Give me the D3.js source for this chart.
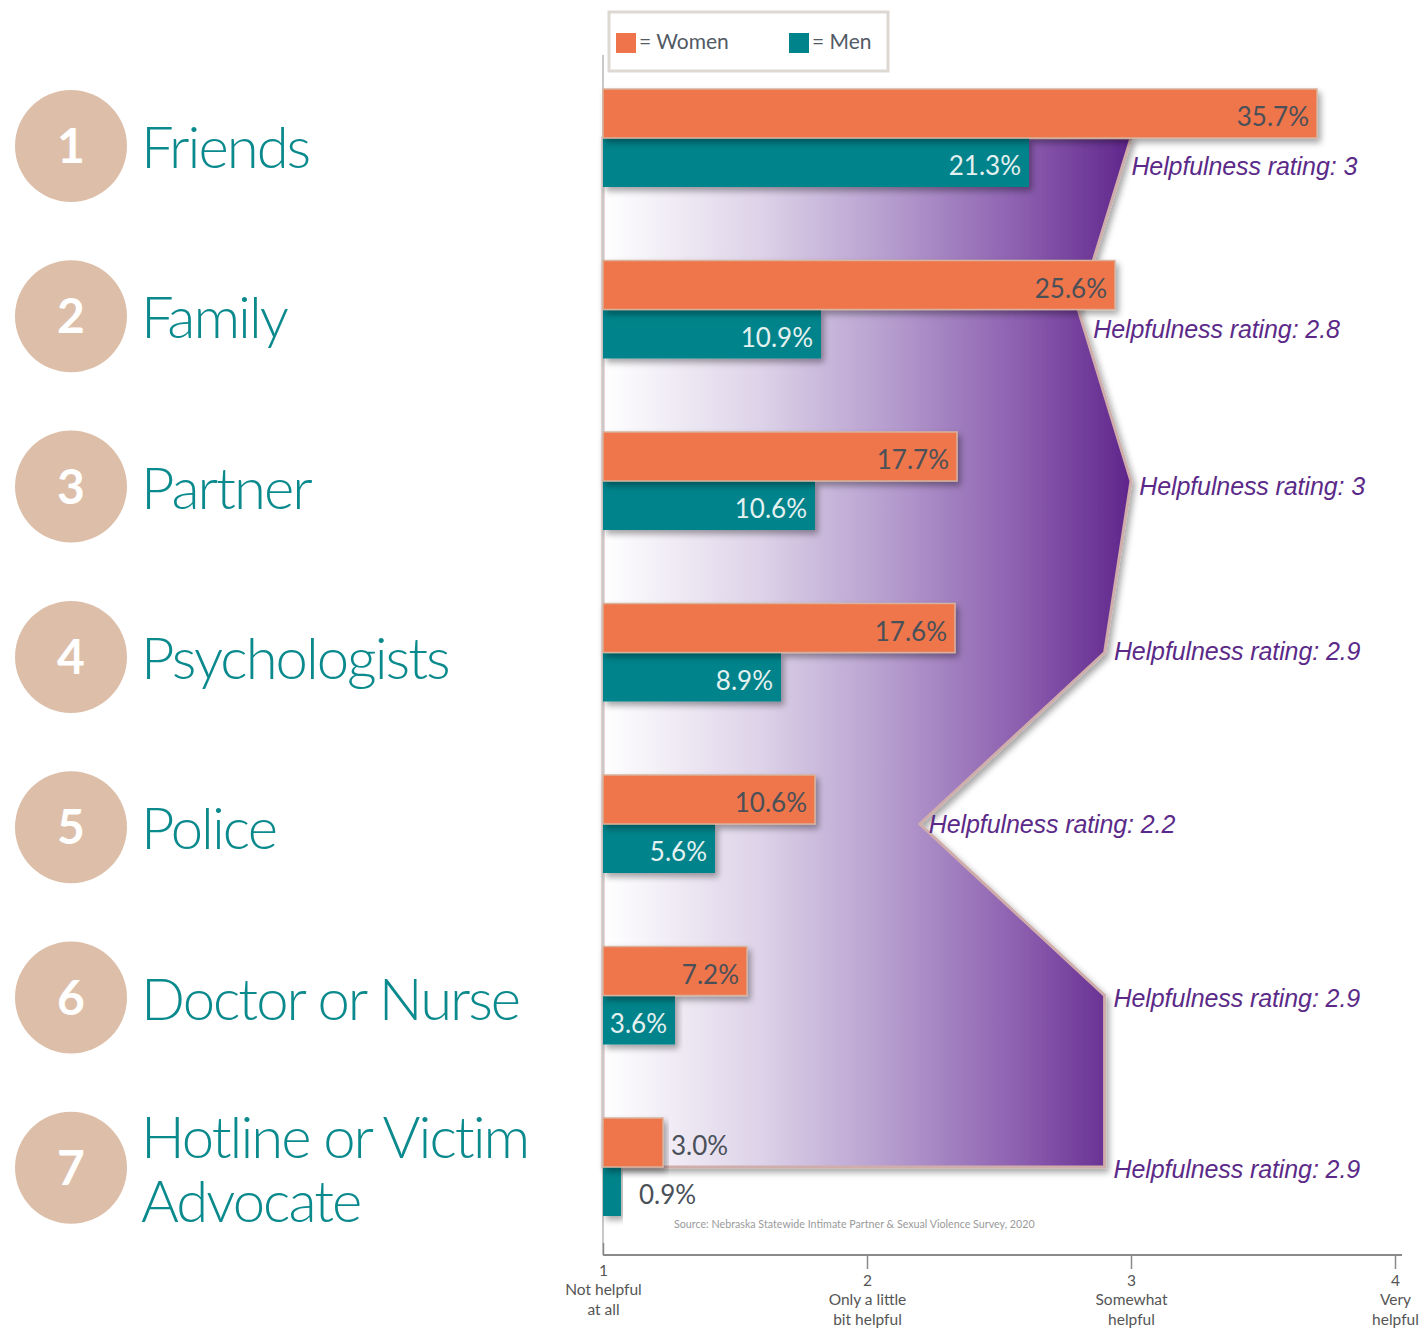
<!DOCTYPE html>
<html>
<head>
<meta charset="utf-8">
<script src="https://cdn.jsdelivr.net/npm/d3@7"></script>
<style>
  html, body { margin: 0; padding: 0; background: #fff; }
  svg { display: block; }
</style>
</head>
<body>
<svg id="chart" width="1420" height="1329"></svg>
<script>
// --- data ---
var categories = ['Friends', 'Family', 'Partner', 'Psychologists', 'Police', 'Doctor or Nurse', 'Hotline or Victim Advocate'];
var categoryLines = [['Friends'], ['Family'], ['Partner'], ['Psychologists'], ['Police'], ['Doctor or Nurse'], ['Hotline or Victim', 'Advocate']];
var women = [35.7, 25.6, 17.7, 17.6, 10.6, 7.2, 3.0];
var men = [21.3, 10.9, 10.6, 8.9, 5.6, 3.6, 0.9];
var ratings = [3, 2.8, 3, 2.9, 2.2, 2.9, 2.9];
var ratingLabels = ['3', '2.8', '3', '2.9', '2.2', '2.9', '2.9'];
var ratingTicks = [1, 2, 3, 4];
var ratingTickLabels = [['Not helpful', 'at all'], ['Only a little', 'bit helpful'], ['Somewhat', 'helpful'], ['Very', 'helpful']];
var sourceNote = 'Source: Nebraska Statewide Intimate Partner & Sexual Violence Survey, 2020';

var WOMEN = '#ef744b', MEN = '#00838a', PURPLE = '#5b2a88', TEAL_TXT = '#0b8a8e', DISC = '#ddbfa9';

var svg = d3.select('#chart');
var defs = svg.append('defs');

var shadow = defs.append('filter').attr('id', 'shadow')
	.attr('x', '-5%').attr('y', '-20%').attr('width', '115%').attr('height', '160%');
shadow.append('feDropShadow').attr('dx', 3).attr('dy', 4).attr('stdDeviation', 3)
	.attr('flood-color', '#000').attr('flood-opacity', 0.35);

var x0 = 603;
var xPct = d3.scaleLinear().domain([0, 40]).range([x0, x0 + 800]);
var xRate = d3.scaleLinear().domain([1, 4]).range([x0, 1395]);
var y = d3.scaleBand().domain(categories).range([89, 1216]).paddingInner(0.4286).paddingOuter(0);
var ySub = d3.scaleBand().domain(['Women', 'Men']).range([0, y.bandwidth()]);

var grad = defs.append('linearGradient').attr('id', 'purpleGrad')
	.attr('gradientUnits', 'userSpaceOnUse')
	.attr('x1', x0).attr('x2', xRate(3)).attr('y1', 0).attr('y2', 0);
[[0, '#ffffff'], [0.3, '#ddd2e8'], [0.55, '#b49bcd'], [0.8, '#8a5cae'], [1, '#5f258b']].forEach(function(s) {
	grad.append('stop').attr('offset', s[0]).attr('stop-color', s[1]);
});

// --- left panel: numbered discs + category names ---
var left = svg.append('g').attr('class', 'left');
categories.forEach(function(c, i) {
	var cy = y(c) + y.bandwidth() / 2 + 8 - i * 1.2;
	left.append('circle').attr('cx', 71).attr('cy', cy).attr('r', 56).attr('fill', DISC);
	left.append('text').attr('x', 71).attr('y', cy + 17)
		.attr('text-anchor', 'middle').attr('fill', '#fff')
		.style('font', '700 48px Lato, sans-serif').text(i + 1);
	var lines = categoryLines[i];
	lines.forEach(function(l, j) {
		left.append('text').attr('fill', TEAL_TXT)
			.style('font', '300 58px Lato, sans-serif')
			.style('letter-spacing', '-2px')
			.attr('x', 141)
			.attr('y', cy + 22 + (j - (lines.length - 1) / 2) * 64).text(l);
	});
});

// --- helpfulness area (purple polygon) ---
var vertices = categories.map(function(c, i) {
	return [xRate(ratings[i]), y(c) + ySub.bandwidth()];
});
var poly = [[x0, vertices[0][1]]].concat(vertices).concat([[x0, vertices[vertices.length - 1][1]]]);
svg.append('path')
	.attr('d', d3.line()(poly) + 'Z')
	.attr('fill', 'url(#purpleGrad)')
	.attr('stroke', '#cfadab').attr('stroke-width', 3)
	.attr('stroke-linejoin', 'miter')
	.attr('filter', 'url(#shadow)');

// left vertical guide
svg.append('line').attr('x1', x0).attr('x2', x0).attr('y1', 55).attr('y2', 1255)
	.attr('stroke', '#c9c9c9').attr('stroke-width', 2);

// --- bars ---
var rows = svg.append('g').attr('class', 'rows').selectAll('g').data(categories).enter()
	.append('g').attr('transform', function(c) { return 'translate(0,' + y(c) + ')'; });

function drawBars(key, vals, fill, stroke, inTxt) {
	rows.append('rect')
		.attr('x', x0).attr('y', ySub(key))
		.attr('width', function(c, i) { return xPct(vals[i]) - x0; })
		.attr('height', ySub.bandwidth())
		.attr('fill', fill)
		.attr('stroke', stroke).attr('stroke-width', stroke === 'none' ? 0 : 1.5)
		.attr('filter', 'url(#shadow)');
	rows.append('text')
		.attr('y', ySub(key) + ySub.bandwidth() / 2 + 13)
		.attr('x', function(c, i) {
			var w = xPct(vals[i]) - x0;
			return w > 70 ? xPct(vals[i]) - 8 : xPct(vals[i]) + (w < 30 ? 18 : 8);
		})
		.attr('text-anchor', function(c, i) { return xPct(vals[i]) - x0 > 70 ? 'end' : 'start'; })
		.attr('fill', function(c, i) { return xPct(vals[i]) - x0 > 70 ? inTxt : '#4a5058'; })
		.style('font', '400 26px Lato, sans-serif')
		.text(function(c, i) { return vals[i].toFixed(1) + '%'; });
}
drawBars('Men', men, MEN, 'none', '#e4f1f1');
drawBars('Women', women, WOMEN, '#d9b29c', '#4a5058');

// --- helpfulness labels, set just right of the polygon edge ---
var labelShift = [28, 20, 5, -2, 0, 2, 2];
function edgeX(py) {
	for (var k = 0; k < vertices.length - 1; k++) {
		var a = vertices[k], b = vertices[k + 1];
		if (py >= a[1] && py <= b[1]) return a[0] + (b[0] - a[0]) * (py - a[1]) / (b[1] - a[1]);
	}
	return vertices[vertices.length - 1][0];
}
svg.append('g').selectAll('text').data(categories).enter().append('text')
	.attr('x', function(c, i) { return edgeX(vertices[i][1] + labelShift[i]) + 9; })
	.attr('y', function(c, i) { return vertices[i][1] + labelShift[i] + 9; })
	.attr('fill', PURPLE)
	.style('font', 'italic 400 25px "Liberation Sans", Arial, sans-serif')
	.style('letter-spacing', '-0.1px')
	.text(function(c, i) { return 'Helpfulness rating: ' + ratingLabels[i]; });

// --- source note ---
svg.append('text').attr('x', 674).attr('y', 1228).attr('fill', '#9a9a9a')
	.style('font', '400 10.7px Lato, sans-serif').text(sourceNote);

// --- bottom rating axis ---
var axisY = 1255;
var axis = svg.append('g').attr('transform', 'translate(0,' + axisY + ')')
	.call(d3.axisBottom(xRate).tickValues(ratingTicks).tickSize(14).tickFormat(''));
axis.select('.domain').attr('d', 'M' + x0 + ',0H1402').attr('stroke', '#8a8a8a').attr('stroke-width', 2);
axis.selectAll('.tick line').attr('stroke', '#8a8a8a').attr('stroke-width', 1.5)
	.attr('y1', function(d) { return d === 1 ? -12 : 0; })
	.attr('y2', function(d) { return d === 1 ? 0 : 14; });
axis.selectAll('.tick').each(function(d, i) {
	var off = d === 1 ? -10 : 0;
	var t = d3.select(this).append('text').attr('fill', '#555').attr('text-anchor', 'middle')
		.style('font', '400 15.5px Lato, sans-serif');
	t.append('tspan').attr('x', 0).attr('y', 31 + off).text(d);
	ratingTickLabels[i].forEach(function(l, j) {
		t.append('tspan').attr('x', 0).attr('y', 50 + off + j * 20).text(l);
	});
});

// --- legend ---
var legend = svg.append('g');
legend.append('rect').attr('x', 609).attr('y', 12).attr('width', 279).attr('height', 59)
	.attr('fill', '#fff').attr('stroke', '#ddd8d2').attr('stroke-width', 3);
[['Women', WOMEN, 616], ['Men', MEN, 789]].forEach(function(l) {
	legend.append('rect').attr('x', l[2]).attr('y', 33).attr('width', 20).attr('height', 20).attr('fill', l[1]);
	legend.append('text').attr('x', l[2] + 23).attr('y', 49).attr('fill', '#525a64')
		.style('font', '400 21px Lato, sans-serif').text('= ' + l[0]);
});
</script>
</body>
</html>
